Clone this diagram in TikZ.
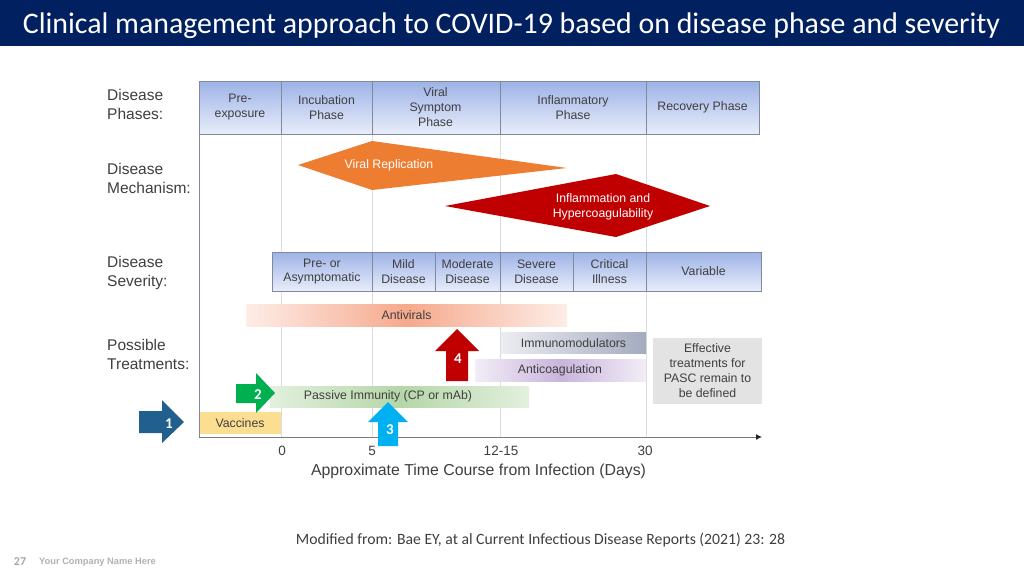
\documentclass[tikz,border=0pt]{standalone}
\usepackage{fontspec}
\setmainfont{Liberation Sans}
\newfontfamily\slidefont{Carlito}
\usetikzlibrary{arrows.meta}
\definecolor{navy}{HTML}{002060}
\definecolor{labelgrey}{HTML}{3F3F3F}
\definecolor{framegrey}{HTML}{7F8A9C}
\definecolor{gridgrey}{HTML}{D9DCE0}
\definecolor{phasetop}{HTML}{9DB2E6}
\definecolor{phasebottom}{HTML}{E8EDFA}
\definecolor{replication}{HTML}{ED7D31}
\definecolor{darkred}{HTML}{C00000}
\definecolor{vaccine}{HTML}{FBDE91}
\definecolor{salmon}{HTML}{F6A98C}
\definecolor{salmonlight}{HTML}{FDEDE7}
\definecolor{slatelight}{HTML}{ECEDF2}
\definecolor{slate}{HTML}{A4ABBF}
\definecolor{purple}{HTML}{C9B4DC}
\definecolor{purplelight}{HTML}{F2EDF7}
\definecolor{greenbar}{HTML}{B5D6A8}
\definecolor{greenlight}{HTML}{E3F0DE}
\definecolor{stepone}{HTML}{215F8F}
\definecolor{steptwo}{HTML}{00B050}
\definecolor{stepthree}{HTML}{00B0F0}
\tikzset{
  rowlabel/.style={anchor=north west,align=left,inner sep=0pt,font=\fontsize{15.5}{19}\selectfont,text=labelgrey},
  phasebox/.style={draw=framegrey,line width=1pt,top color=phasetop,bottom color=phasebottom,align=center,inner sep=0pt,font=\fontsize{12.3}{15}\selectfont,text=labelgrey},
  barbox/.style={inner sep=0pt,align=center,font=\fontsize{12.3}{15}\selectfont,text=labelgrey},
  ticklabel/.style={inner sep=0pt,font=\fontsize{13.5}{15}\selectfont,text=labelgrey},
  stepnum/.style={inner sep=0pt,font=\slidefont\bfseries\fontsize{15}{18}\selectfont,text=white},
  gridline/.style={draw=gridgrey,line width=1pt}
}
\begin{document}
\begin{tikzpicture}[x=1pt,y=-1pt]
\useasboundingbox (0,0) rectangle (1024,576);
\fill[white] (0,0) rectangle (1024,576);
\fill[navy] (0,0) rectangle (1024,46);
\node[inner sep=0pt,text=white,font=\slidefont\fontsize{29.85}{34}\selectfont] (title) at (511.5,25.5) {Clinical management approach to COVID-19 based on disease phase and severity};
% grid
\coordinate (origin) at (199,437);
\coordinate (axisend) at (762,437);
\coordinate (axistop) at (199,134);
\draw[gridline] (281,134) -- (281,437);
\draw[gridline] (372,134) -- (372,437);
\draw[gridline] (500,134) -- (500,437);
\draw[gridline] (646,134) -- (646,437);
% row labels
\node[rowlabel] (phaseslabel) at (107,89.5) {Disease\\Phases:};
\node[rowlabel] (mechanismlabel) at (107,163.5) {Disease\\Mechanism:};
\node[rowlabel] (severitylabel) at (107,256.5) {Disease\\Severity:};
\node[rowlabel] (treatmentlabel) at (107,339.5) {Possible\\Treatments:};
% phases
\node[phasebox,minimum width=82,minimum height=53] (preexposure) at (240,107.5) {Pre-\\exposure};
\node[phasebox,minimum width=91,minimum height=53] (incubation) at (326.5,107.5) {Incubation\\Phase};
\node[phasebox,minimum width=128,minimum height=53] (viralphase) at (436,107.5) {\hspace*{-1pt}Viral\\\hspace*{-1pt}Symptom\\\hspace*{-1pt}Phase};
\node[phasebox,minimum width=146,minimum height=53] (inflammatory) at (573,107.5) {Inflammatory\\Phase};
\node[phasebox,minimum width=113,minimum height=53] (recovery) at (702.5,107.5) {Recovery Phase};
% mechanism
\fill[replication] (298,165) -- (372,141) -- (567,168) -- (372,190) -- cycle;
\node[inner sep=0pt,text=white,font=\fontsize{12.3}{15}\selectfont] (viralrep) at (389,165) {Viral Replication};
\fill[darkred] (445,206) -- (616,174) -- (710,206) -- (616,237) -- cycle;
\node[inner sep=0pt,align=center,text=white,font=\fontsize{12.3}{15}\selectfont] (inflammation) at (603,206.5) {Inflammation and\\Hypercoagulability};
% severity
\node[phasebox,minimum width=100,minimum height=39] (asymptomatic) at (322,271.5) {Pre- or\\[-0.5pt]Asymptomatic};
\node[phasebox,minimum width=63,minimum height=39] (mild) at (403.5,271.5) {Mild\\Disease};
\node[phasebox,minimum width=65,minimum height=39] (moderate) at (467.5,271.5) {Moderate\\Disease};
\node[phasebox,minimum width=73,minimum height=39] (severe) at (536.5,271.5) {Severe\\Disease};
\node[phasebox,minimum width=73,minimum height=39] (critical) at (609.5,271.5) {Critical\\Illness};
\node[phasebox,minimum width=115,minimum height=39] (variable) at (703.5,271.5) {Variable};
% treatments
\node[barbox,minimum width=321,minimum height=22,left color=salmonlight,right color=salmonlight,middle color=salmon] (antivirals) at (406.5,315) {Antivirals};
\node[barbox,minimum width=145,minimum height=21,left color=slatelight,right color=slate] (immuno) at (573.5,343) {Immunomodulators};
\node[barbox,minimum width=171,minimum height=22,left color=purplelight,right color=purplelight,middle color=purple] (anticoag) at (560.5,370) {\hspace*{-1pt}Anticoagulation};
\node[barbox,minimum width=259,minimum height=21,left color=greenlight,right color=greenlight,middle color=greenbar] (passive) at (399.5,396.5) {\hspace*{-23pt}Passive Immunity (CP or mAb)};
\node[barbox,minimum width=82,minimum height=22,fill=vaccine] (vaccines) at (240,423) {Vaccines};
\node[barbox,minimum width=109,minimum height=66,fill=black!11] (pasc) at (707.5,371) {Effective\\treatments for\\PASC remain to\\be defined};
% axis
\draw[framegrey,line width=1pt] (axistop) -- (origin);
\draw[-{Latex[length=6pt,width=6pt,color=black!85]},labelgrey!70,line width=1pt] (origin) -- (axisend);
\node[ticklabel] (tickzero) at (282,450.5) {0};
\node[ticklabel] (tickfive) at (372,450.5) {5};
\node[ticklabel] (tickfifteen) at (501,450.5) {12-15};
\node[ticklabel] (tickthirty) at (645,450.5) {30};
\node[inner sep=0pt,text=labelgrey,font=\fontsize{15.85}{18}\selectfont] (timelabel) at (478.5,471) {Approximate Time Course from Infection (Days)};
% numbered arrows
\fill[stepone] (139,411) -- (162,411) -- (162,400) -- (184,422) -- (162,443) -- (162,433) -- (139,433) -- cycle;
\node[stepnum] (one) at (169,423.5) {1};
\fill[steptwo] (236,384) -- (256,384) -- (256,373) -- (275,393) -- (256,413) -- (256,403) -- (236,403) -- cycle;
\node[stepnum] (two) at (258,395) {2};
\fill[stepthree] (378,446) -- (378,422) -- (368,422) -- (388,402) -- (408,422) -- (398,422) -- (398,446) -- cycle;
\node[stepnum] (three) at (390,429.5) {3};
\fill[darkred] (446,381) -- (446,351) -- (435,351) -- (457,329) -- (479,351) -- (468,351) -- (468,381) -- cycle;
\node[stepnum] (four) at (458,359) {4};
% footer
\node[inner sep=0pt,text=labelgrey,font=\slidefont\fontsize{15.7}{18}\selectfont] (source) at (540.5,540) {Modified from: Bae EY, at al Current Infectious Disease Reports (2021) 23: 28};
\node[inner sep=0pt,text=black!35,font=\slidefont\bfseries\fontsize{12}{13}\selectfont] (pagenum) at (20,561.5) {27};
\node[anchor=west,inner sep=0pt,text=black!30,font=\bfseries\fontsize{9.3}{11}\selectfont] (company) at (39,562) {Your Company Name Here};
\end{tikzpicture}
\end{document}
